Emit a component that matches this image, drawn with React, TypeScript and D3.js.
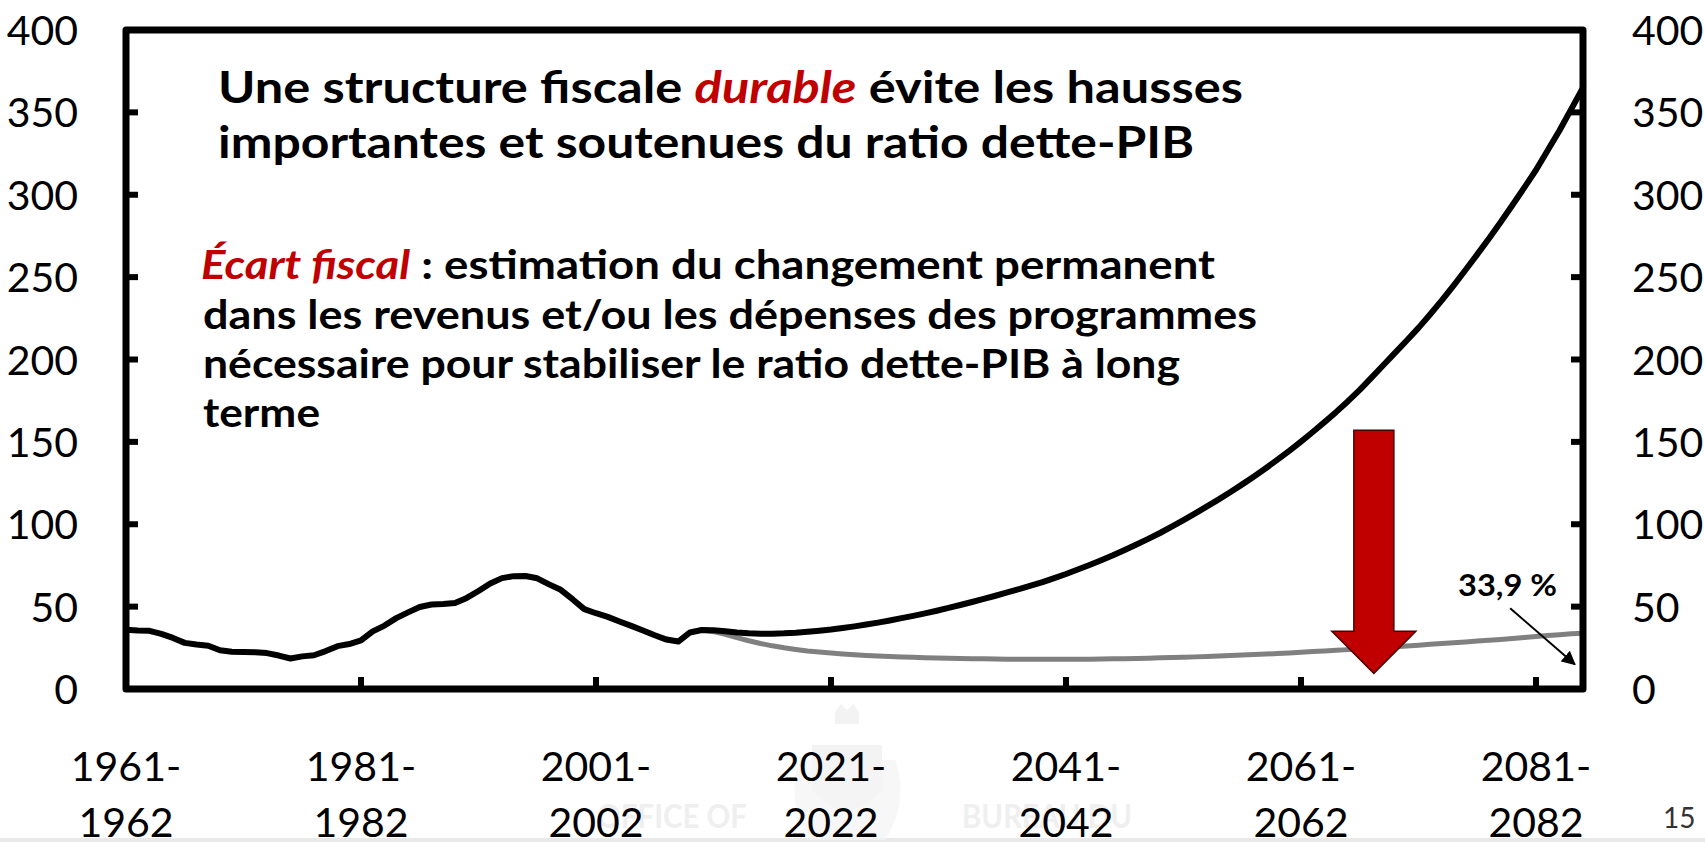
import * as d3 from "d3";

// fiscal years 1961-1962 ... 2085-2086, one value per year
const firstYear = 1961;
const tickYears = [1961, 1981, 2001, 2021, 2041, 2061, 2081];
const yTicks = [0, 50, 100, 150, 200, 250, 300, 350, 400];

// debt-to-GDP ratio, status quo (history + projection), %
const statuQuo = [
  36.0, 35.5, 35.3, 33.5, 31.0, 28.0, 27.0, 26.3, 23.5, 22.6,
  22.5, 22.3, 21.8, 20.3, 18.5, 19.8, 20.5, 23.0, 26.0, 27.3,
  29.5, 35.0, 38.5, 43.0, 46.5, 49.8, 51.3, 51.6, 52.2, 55.3,
  59.5, 64.0, 67.3, 68.5, 68.6, 67.2, 63.5, 60.2, 54.5, 48.5,
  46.0, 43.8, 41.0, 38.3, 35.5, 32.6, 30.0, 28.8, 34.3, 35.8,
  35.6, 35.0, 34.3, 33.8, 33.6, 33.6, 33.8, 34.2, 34.8, 35.4,
  36.1, 37.0, 38.0, 39.1, 40.3, 41.6, 43.0, 44.4, 45.9, 47.5,
  49.2, 51.0, 52.8, 54.7, 56.6, 58.6, 60.6, 62.7, 64.9, 67.3,
  69.8, 72.5, 75.3, 78.2, 81.2, 84.4, 87.7, 91.1, 94.7, 98.5,
  102.5, 106.6, 110.8, 115.1, 119.6, 124.2, 129.0, 134.0, 139.2, 144.6,
  150.2, 156.0, 162.0, 168.2, 174.7, 181.6, 189.0, 196.5, 204.0, 211.5,
  219.2, 227.5, 236.0, 245.0, 254.3, 263.8, 273.5, 283.5, 293.8, 304.3,
  315.0, 327.0, 339.0, 352.0, 365.0,
];

// sustainable path, starts in 2010-2011
const durableStartYear = 2010;
const durable = [
  35.8, 34.8, 33.2, 31.2, 29.3, 27.6, 26.2, 25.0, 24.0, 23.1,
  22.4, 21.8, 21.3, 20.8, 20.4, 20.0, 19.7, 19.4, 19.2, 19.0,
  18.8, 18.6, 18.5, 18.4, 18.3, 18.2, 18.1, 18.1, 18.0, 18.0,
  18.0, 18.0, 18.0, 18.1, 18.2, 18.3, 18.4, 18.5, 18.7, 18.9,
  19.1, 19.3, 19.5, 19.7, 20.0, 20.3, 20.6, 20.9, 21.2, 21.5,
  21.9, 22.3, 22.7, 23.1, 23.5, 23.9, 24.3, 24.7, 25.2, 25.6,
  26.1, 26.6, 27.1, 27.6, 28.1, 28.6, 29.1, 29.6, 30.1, 30.7,
  31.3, 31.9, 32.5, 33.0, 33.5, 33.9,
];

const W = 1705;
const H = 842;
const plot = { left: 126, right: 1583, top: 30, bottom: 689 };
const RED = "#C00000";
const FONT = "Lato, 'Open Sans', sans-serif";

const App = () => {
  const x = d3
    .scaleLinear()
    .domain([0, statuQuo.length - 1])
    .range([plot.left, plot.right]);
  const y = d3.scaleLinear().domain([0, 400]).range([plot.bottom, plot.top]);

  const line = d3
    .line<number>()
    .x((d, i) => x(i))
    .y((d) => y(d));
  const offset = durableStartYear - firstYear;
  const lineDurable = d3
    .line<number>()
    .x((d, i) => x(i + offset))
    .y((d) => y(d));

  // big red arrow (in data units)
  const ax = x(106.2);
  const shaftTop = y(157);
  const headBase = y(35);
  const tip = y(9.5);
  const arrow = [
    [ax - 20, shaftTop],
    [ax + 20, shaftTop],
    [ax + 20, headBase],
    [ax + 42, headBase],
    [ax, tip],
    [ax - 42, headBase],
    [ax - 20, headBase],
  ];

  const tickLen = 12;

  return (
    <svg
      width={W}
      height={H}
      style={{ position: "absolute", left: 0, top: 0, background: "#fff" }}
      fontFamily={FONT}
    >
      <defs>
        <marker
          id="head"
          viewBox="0 0 10 10"
          refX="9"
          refY="5"
          markerWidth="7"
          markerHeight="7"
          orient="auto"
        >
          <path d="M0,0 L10,5 L0,10 z" fill="#000" />
        </marker>
      </defs>

      {/* watermark */}
      <rect x={0} y={838} width={W} height={4} fill="#e9e9e9" />
      <g fill="#efefef">
        <text x={597} y={828} fontSize={33} fontWeight={700} textLength={150} lengthAdjust="spacingAndGlyphs">
          OFFICE OF
        </text>
        <text x={962} y={828} fontSize={33} fontWeight={700} textLength={170} lengthAdjust="spacingAndGlyphs">
          BUREAU DU
        </text>
      </g>
      <g fill="#f3f3f3">
        <path d="M835,712 l6,-8 l6,6 l6,-6 l6,8 v12 h-24 z" />
        <path d="M812,745 h70 v45 q-35,40 -70,0 z" />
        <path d="M800,760 q-15,40 10,80 h75 q25,-40 10,-80 z" opacity={0.7} />
      </g>

      {/* series */}
      <path
        d={lineDurable(durable) ?? ""}
        fill="none"
        stroke="#808080"
        strokeWidth={5}
        strokeLinejoin="round"
      />
      <path
        d={line(statuQuo) ?? ""}
        fill="none"
        stroke="#000"
        strokeWidth={6}
        strokeLinejoin="round"
        strokeLinecap="round"
      />

      {/* frame and ticks */}
      <rect
        x={plot.left}
        y={plot.top}
        width={plot.right - plot.left}
        height={plot.bottom - plot.top}
        fill="none"
        stroke="#000"
        strokeWidth={7}
        strokeLinejoin="round"
      />
      {yTicks.slice(1, -1).map((t) => (
        <g key={t} stroke="#000" strokeWidth={6}>
          <line x1={plot.left} x2={plot.left + tickLen} y1={y(t)} y2={y(t)} />
          <line x1={plot.right - tickLen} x2={plot.right} y1={y(t)} y2={y(t)} />
        </g>
      ))}
      {tickYears.slice(1).map((yr) => (
        <line
          key={yr}
          x1={x(yr - firstYear)}
          x2={x(yr - firstYear)}
          y1={plot.bottom}
          y2={plot.bottom - tickLen}
          stroke="#000"
          strokeWidth={6}
        />
      ))}

      {/* axis labels */}
      {yTicks.map((t) => (
        <g key={t} fontSize={41} fill="#000">
          <text x={78} y={y(t) + 15} textAnchor="end">
            {t}
          </text>
          <text x={1632} y={y(t) + 15} textAnchor="start">
            {t}
          </text>
        </g>
      ))}
      {tickYears.map((yr) => (
        <g key={yr} fontSize={41} fill="#000" textAnchor="middle">
          <text x={x(yr - firstYear)} y={781}>
            {`${yr}-`}
          </text>
          <text x={x(yr - firstYear)} y={837}>
            {`${yr + 1}`}
          </text>
        </g>
      ))}

      {/* red arrow */}
      <polygon
        points={arrow.map((p) => p.join(",")).join(" ")}
        fill={RED}
        stroke="#4a0000"
        strokeWidth={1.5}
      />

      {/* 33,9 % annotation */}
      <text x={1458} y={596} fontSize={30} fontWeight={700} textLength={99} lengthAdjust="spacingAndGlyphs">
        33,9 %
      </text>
      <line
        x1={x(117.8)}
        y1={y(49)}
        x2={x(123.3)}
        y2={y(15)}
        stroke="#000"
        strokeWidth={2}
        markerEnd="url(#head)"
      />

      {/* text blocks */}
      <g fontSize={43} fontWeight={700} fill="#000">
        <text x={218} y={103} textLength={1025} lengthAdjust="spacingAndGlyphs">
          Une structure fiscale{" "}
          <tspan fill={RED} fontStyle="italic">
            durable
          </tspan>{" "}
          évite les hausses
        </text>
        <text x={218} y={158} textLength={976} lengthAdjust="spacingAndGlyphs">
          importantes et soutenues du ratio dette-PIB
        </text>
      </g>
      <g fontSize={41} fontWeight={700} fill="#000">
        <text x={201} y={279} textLength={1014} lengthAdjust="spacingAndGlyphs">
          <tspan fill={RED} fontStyle="italic">
            Écart fiscal
          </tspan>{" "}
          : estimation du changement permanent
        </text>
        <text x={203} y={329} textLength={1054} lengthAdjust="spacingAndGlyphs">
          dans les revenus et/ou les dépenses des programmes
        </text>
        <text x={203} y={378} textLength={977} lengthAdjust="spacingAndGlyphs">
          nécessaire pour stabiliser le ratio dette-PIB à long
        </text>
        <text x={203} y={427} textLength={117} lengthAdjust="spacingAndGlyphs">
          terme
        </text>
      </g>

      {/* page number */}
      <text x={1663} y={828} fontSize={28} fill="#333">
        15
      </text>
    </svg>
  );
};

export default App;
